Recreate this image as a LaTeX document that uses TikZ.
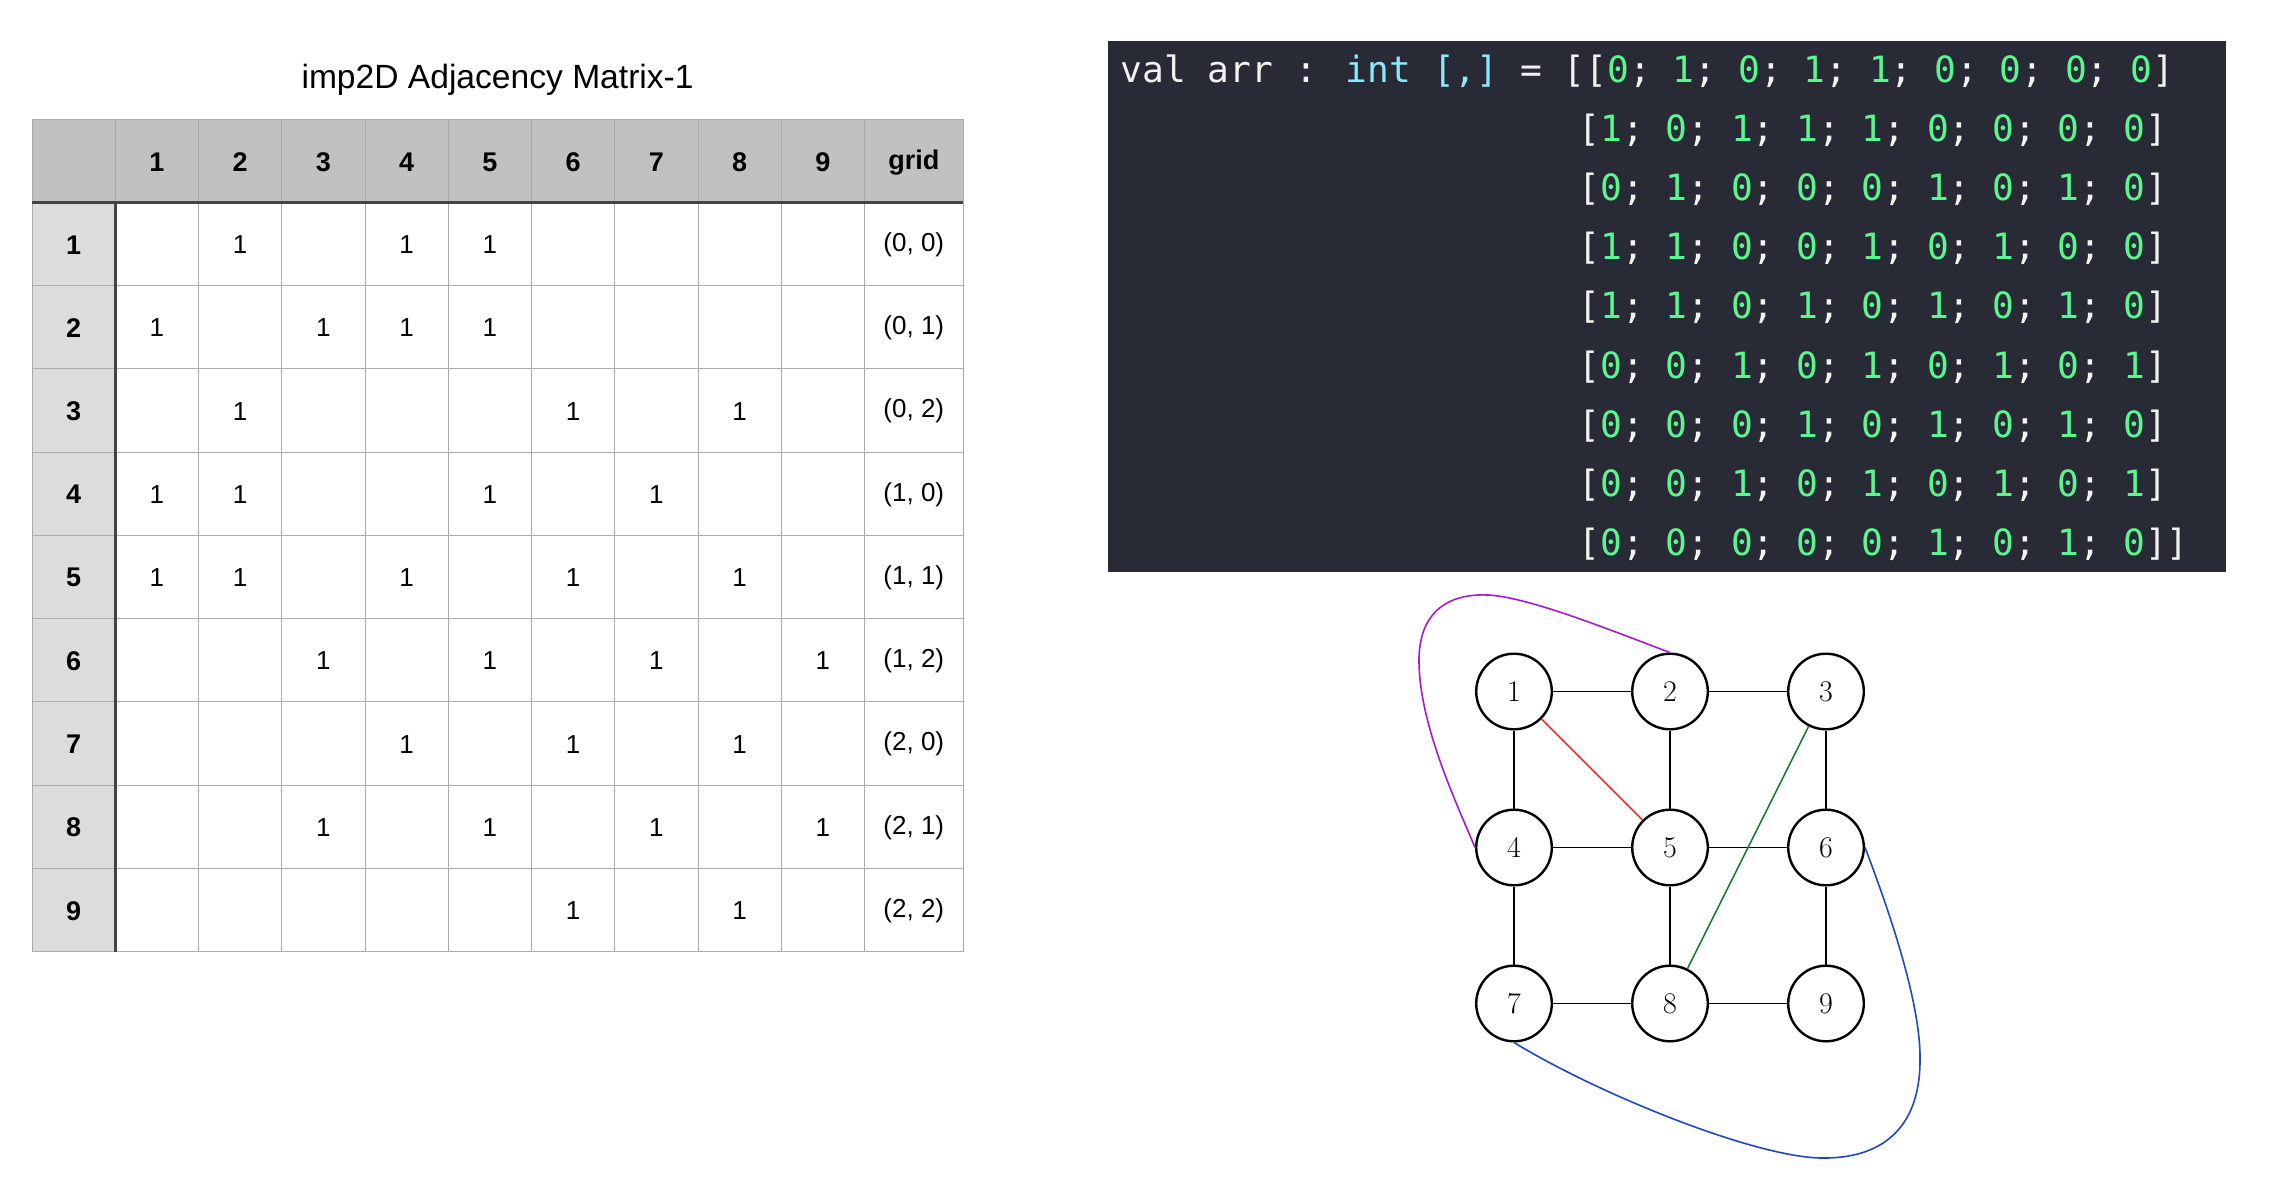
\documentclass[tikz,border=0pt]{standalone}
\usepackage{fontspec}
\newfontfamily\tabfont{Liberation Sans}
\newfontfamily\codefont{DejaVu Sans Mono}

\definecolor{hdrgray}{HTML}{C0C1C0}
\definecolor{rowgray}{HTML}{DCDCDC}
\definecolor{gridgray}{HTML}{ABABAB}
\definecolor{rulegray}{HTML}{444444}
\definecolor{codebg}{HTML}{282A36}
\definecolor{codegreen}{HTML}{5AF78E}
\definecolor{codecyan}{HTML}{8BE9FD}
\definecolor{codewhite}{HTML}{F2F2EE}
\definecolor{edgepurple}{HTML}{A21CCB}
\definecolor{edgered}{HTML}{EE3322}
\definecolor{edgegreen}{HTML}{17793A}
\definecolor{edgeblue}{HTML}{2049BB}

\newcommand\gz{\textcolor{codegreen}{0}}
\newcommand\go{\textcolor{codegreen}{1}}

\tikzset{every picture/.style={line width=0.75pt},
  cell/.style={inner sep=0pt, font=\tabfont\fontsize{13}{15}\selectfont},
  hdr/.style={cell, font=\tabfont\bfseries\fontsize{13.5}{15}\selectfont},
  rule/.style={gridgray, line width=0.5pt},
  codeline/.style={anchor=base west, inner sep=0pt, text=codewhite, font=\codefont\fontsize{18.1}{22}\selectfont},
  vtx/.style={circle, draw, line width=1.2pt, minimum size=37.8pt, inner sep=0pt, font=\fontsize{15}{18}\selectfont},
  edge/.style={line width=0.95pt},
  chord/.style={line width=0.8pt}}

\begin{document}
\begin{tikzpicture}[x=0.5pt,y=0.5pt,yscale=-1,xscale=1]
\useasboundingbox (0,0) rectangle (2278,1178);

% Title
\node[font=\tabfont\fontsize{16.8}{20}\selectfont] (title) at (497.6,80) {imp2D Adjacency Matrix-1};

%Shape: Table background
\fill[hdrgray] (32,119) rectangle (963.2,202.25);
\fill[rowgray] (32,202.25) rectangle (115.25,951.5);
%Table grid
\foreach \k in {0,...,10} \draw[rule] ({32+83.25*\k},119) -- ({32+83.25*\k},951.5);
\draw[rule] (963.2,119) -- (963.2,951.5);
\foreach \k in {0,...,10} \draw[rule] (32,{119+83.25*\k}) -- (963.2,{119+83.25*\k});
\draw[rulegray, line width=1.3pt] (32,202.25) -- (963.2,202.25);
\draw[rulegray, line width=1.3pt] (115.25,202.25) -- (115.25,951.5);

% Header row and row labels
\foreach \c in {1,...,9} \node[hdr] (h\c) at ({73.6+83.25*\c},162.5) {\c};
\node[hdr] (hgrid) at (913.8,162.5) {grid};
\foreach \r in {1,...,9} \node[hdr] (r\r) at (73.6,{161.5+83.25*\r}) {\r};

% Entries
\foreach \r/\cols in {1/{2,4,5},2/{1,3,4,5},3/{2,6,8},4/{1,2,5,7},5/{1,2,4,6,8},6/{3,5,7,9},7/{4,6,8},8/{3,5,7,9},9/{6,8}}
  \foreach \c in \cols \node[cell] (e\r-\c) at ({73.6+83.25*\c},{161.5+83.25*\r}) {1};
\foreach \r/\g in {1/{(0, 0)},2/{(0, 1)},3/{(0, 2)},4/{(1, 0)},5/{(1, 1)},6/{(1, 2)},7/{(2, 0)},8/{(2, 1)},9/{(2, 2)}}
  \node[cell] (g\r) at (913.8,{161.5+83.25*\r}) {\g};

%Shape: Code panel
\fill[codebg] (1108,41) rectangle (2226,572);
% Code lines
\node[codeline] (line1) at (1120,82) {val arr : \textcolor{codecyan}{int [,]} = [[\gz; \go; \gz; \go; \go; \gz; \gz; \gz; \gz]};
\foreach \row [count=\i from 2] in {{[\go; \gz; \go; \go; \go; \gz; \gz; \gz; \gz]},{[\gz; \go; \gz; \gz; \gz; \go; \gz; \go; \gz]},{[\go; \go; \gz; \gz; \go; \gz; \go; \gz; \gz]},{[\go; \go; \gz; \go; \gz; \go; \gz; \go; \gz]},{[\gz; \gz; \go; \gz; \go; \gz; \go; \gz; \go]},{[\gz; \gz; \gz; \go; \gz; \go; \gz; \go; \gz]},{[\gz; \gz; \go; \gz; \go; \gz; \go; \gz; \go]},{[\gz; \gz; \gz; \gz; \gz; \go; \gz; \go; \gz]]}}
  \node[codeline] (line\i) at (1577.7,{82+59.2*(\i-1)}) {\row};

% Graph vertices
\node[vtx] (v1) at (1514,691.5) {1};
\node[vtx] (v2) at (1670,691.5) {2};
\node[vtx] (v3) at (1826,691.5) {3};
\node[vtx] (v4) at (1514,847.5) {4};
\node[vtx] (v5) at (1670,847.5) {5};
\node[vtx] (v6) at (1826,847.5) {6};
\node[vtx] (v7) at (1514,1003.5) {7};
\node[vtx] (v8) at (1670,1003.5) {8};
\node[vtx] (v9) at (1826,1003.5) {9};

% Grid edges
\foreach \a/\b in {1/2,2/3,4/5,5/6,7/8,8/9,1/4,4/7,2/5,5/8,3/6,6/9}
  \draw[edge] (v\a) -- (v\b);
% Extra edges
\draw[chord, edgered] (v1) -- (v5);
\draw[chord, edgegreen] (v3) -- (v8);
\draw[chord, edgepurple] (v2.north) .. controls (1620,634) and (1530,597) .. (1488,595)
  .. controls (1440,593) and (1418,620) .. (1419,663)
  .. controls (1420,725) and (1455,800) .. (v4.west);
\draw[chord, edgeblue] (v6.east) .. controls (1885,900) and (1921,1000) .. (1920,1060)
  .. controls (1920,1130) and (1880,1159) .. (1821,1158)
  .. controls (1755,1157) and (1600,1095) .. (v7.south);

\end{tikzpicture}
\end{document}
